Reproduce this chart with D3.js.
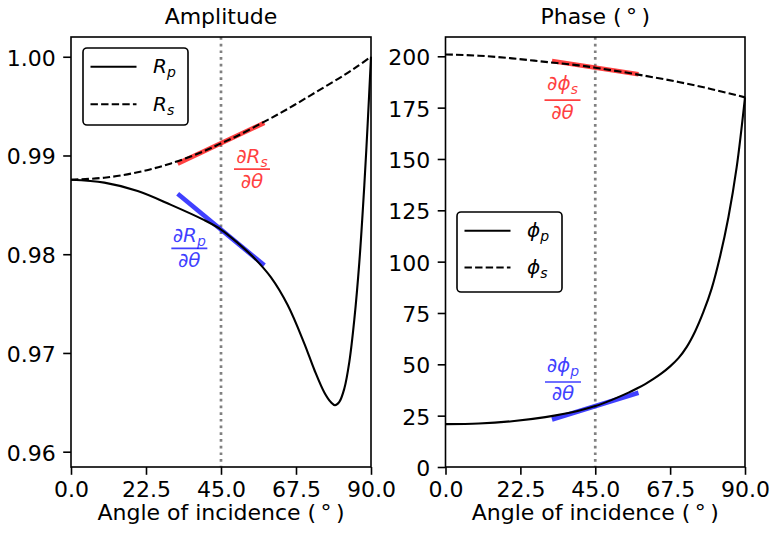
<!DOCTYPE html>
<html>
<head>
<meta charset="utf-8">
<script src="https://cdn.jsdelivr.net/npm/d3@7"></script>
<style>
  html, body { margin: 0; padding: 0; background: #fff; }
  svg { display: block; font-family: "DejaVu Sans", sans-serif; }
</style>
</head>
<body>
<svg id="chart" width="770" height="537"></svg>
<script>
// ---------- data ----------
const xTicks = [0, 22.5, 45, 67.5, 90];
const xTickLabels = ["0.0", "22.5", "45.0", "67.5", "90.0"];
const ampTicks = [0.96, 0.97, 0.98, 0.99, 1.00];
const ampTickLabels = ["0.96", "0.97", "0.98", "0.99", "1.00"];
const phaseTicks = [0, 25, 50, 75, 100, 125, 150, 175, 200];
const phaseTickLabels = ["0", "25", "50", "75", "100", "125", "150", "175", "200"];

const rpAngles = [0, 10, 20, 30, 40, 45, 50, 55, 60, 65, 70, 73, 76, 78, 79.2, 80.5, 82, 83.5, 85, 86.5, 88, 89, 90];
const rpValues = [0.98755, 0.98725, 0.98640, 0.98500, 0.98345, 0.98250, 0.98115, 0.97960, 0.97765, 0.97485, 0.97095, 0.96830, 0.96600, 0.96500, 0.96471, 0.96505, 0.96640, 0.96910, 0.97340, 0.97920, 0.98700, 0.99320, 1.00000];

const rsAngles = [0, 10, 20, 30, 40, 45, 50, 57, 62, 67, 72, 77, 82, 86, 90];
const rsValues = [0.98755, 0.98775, 0.98830, 0.98920, 0.99045, 0.99123, 0.99200, 0.99325, 0.99415, 0.99511, 0.99612, 0.99713, 0.99815, 0.99905, 1.00000];

const phiPAngles = [0, 10, 20, 30, 40, 45, 50, 55, 57.5, 60, 62.5, 65, 67.5, 70, 72.5, 75, 77.5, 80, 82.5, 85, 87.5, 90];
const phiPValues = [20.9, 21.2, 22.3, 24.3, 27.4, 29.65, 32.7, 36.2, 38.2, 40.4, 42.9, 45.7, 49.0, 53.0, 58.5, 66.0, 75.5, 87.0, 102.5, 121.5, 146.0, 180.0];

const phiSAngles = [0, 10, 20, 30, 40, 45, 50, 60, 70, 80, 90];
const phiSValues = [200.9, 200.3, 199.0, 197.3, 195.6, 194.45, 193.2, 190.5, 187.5, 184.0, 180.0];

const tangentAngles = [32, 58];
const rsTangent = [0.98917, 0.99330];
const rpTangent = [0.98613, 0.97887];
const phiSTangent = [197.67, 191.23];
const phiPTangent = [23.15, 36.15];

const markAngle = 45;

// ---------- layout ----------
const svg = d3.select("#chart");
const plotTop = 37, plotBottom = 467;
const FS = 22;
const RED = "rgba(255,0,0,0.75)";
const BLUE = "rgba(0,0,255,0.75)";

const xL = d3.scaleLinear([0, 90], [71, 371]);
const yL = d3.scaleLinear([0.95845, 1.0020], [plotBottom, plotTop]);
const xR = d3.scaleLinear([0, 90], [445.5, 745]);
const yR = d3.scaleLinear([0, 209.4], [plotBottom, plotTop]);

function zip(a, b) { return a.map((v, i) => [v, b[i]]); }

function panel(x, y, yTicks, yLabels, title) {
  const g = svg.append("g");
  const [x0, x1] = x.range();
  const ax = d3.axisBottom(x).tickValues(xTicks).tickFormat((d, i) => xTickLabels[i])
    .tickSizeInner(7.8).tickSizeOuter(0).tickPadding(7.0);
  const gx = g.append("g").attr("transform", `translate(0,${plotBottom})`).call(ax);
  const ay = d3.axisLeft(y).tickValues(yTicks).tickFormat((d, i) => yLabels[i])
    .tickSizeInner(7.8).tickSizeOuter(0).tickPadding(7.4);
  const gy = g.append("g").attr("transform", `translate(${x0},0)`).call(ay);
  [gx, gy].forEach(a => {
    a.select(".domain").remove();
    a.selectAll("line").attr("stroke", "#000").attr("stroke-width", 1.6);
    a.selectAll("text").attr("font-size", FS).attr("fill", "#000")
      .attr("font-family", "DejaVu Sans");
  });
  gx.selectAll("text").attr("dy", "0.68em");
  gy.selectAll("text").attr("dy", "0.38em");
  g.append("line").attr("x1", x(markAngle)).attr("x2", x(markAngle))
    .attr("y1", plotTop).attr("y2", plotBottom)
    .attr("stroke", "#808080").attr("stroke-width", 2.7)
    .attr("stroke-dasharray", "2.7,4");
  g.append("text").attr("x", (x0 + x1) / 2).attr("y", 24).attr("text-anchor", "middle")
    .attr("font-size", FS).text(title);
  g.append("text").attr("x", (x0 + x1) / 2).attr("y", 520).attr("text-anchor", "middle")
    .attr("font-size", FS).text("Angle of incidence (\u2009\u00B0\u2009)");
  return g;
}

function frame(g, x) {
  const [x0, x1] = x.range();
  g.append("rect").attr("x", x0).attr("y", plotTop).attr("width", x1 - x0).attr("height", plotBottom - plotTop)
    .attr("fill", "none").attr("stroke", "#000").attr("stroke-width", 1.6);
}

function tangent(g, x, y, vals, color) {
  g.append("path").datum(zip(tangentAngles, vals))
    .attr("d", d3.line().x(d => x(d[0])).y(d => y(d[1])))
    .attr("stroke", color).attr("stroke-width", 4.6).attr("fill", "none");
}

function curve(g, x, y, angles, vals, dashed) {
  g.append("path").datum(zip(angles, vals))
    .attr("d", d3.line().x(d => x(d[0])).y(d => y(d[1])).curve(d3.curveCatmullRom.alpha(0.5)))
    .attr("stroke", "#000").attr("stroke-width", 2.1).attr("fill", "none")
    .attr("stroke-dasharray", dashed ? "7.4,3.2" : null);
}

function fraction(g, cx, barY, sym, sub, color, descender) {
  const fs = 20;
  const num = g.append("text").attr("x", cx).attr("y", barY - (descender ? 10 : 6.5))
    .attr("text-anchor", "middle").attr("font-size", fs).attr("fill", color)
    .attr("font-style", "italic");
  num.append("tspan").text("\u2202" + sym);
  num.append("tspan").attr("font-size", fs * 0.7).attr("dy", 4).text(sub);
  g.append("line").attr("x1", cx - 18).attr("x2", cx + 18).attr("y1", barY).attr("y2", barY)
    .attr("stroke", color).attr("stroke-width", 1.7);
  g.append("text").attr("x", cx).attr("y", barY + 18.5).attr("text-anchor", "middle")
    .attr("font-size", fs).attr("fill", color).attr("font-style", "italic")
    .text("\u2202\u03B8");
}

function legend(g, bx, by, bw, bh, rows) {
  g.append("rect").attr("x", bx).attr("y", by).attr("width", bw).attr("height", bh)
    .attr("rx", 4).attr("fill", "#fff").attr("stroke", "#000").attr("stroke-width", 1.6);
  rows.forEach(r => {
    g.append("line").attr("x1", bx + 7.5).attr("x2", bx + 53.5).attr("y1", r.y).attr("y2", r.y)
      .attr("stroke", "#000").attr("stroke-width", 2.1)
      .attr("stroke-dasharray", r.dashed ? "7.4,3.2" : null);
    const t = g.append("text").attr("x", bx + 70).attr("y", r.y + 6.5)
      .attr("font-size", 20).attr("font-style", "italic").attr("fill", "#000");
    t.append("tspan").text(r.sym);
    t.append("tspan").attr("font-size", 20 * 0.7).attr("dy", 4).text(r.sub);
  });
}

// ---------- left: amplitude ----------
const gL = panel(xL, yL, ampTicks, ampTickLabels, "Amplitude");
tangent(gL, xL, yL, rsTangent, RED);
tangent(gL, xL, yL, rpTangent, BLUE);
curve(gL, xL, yL, rpAngles, rpValues, false);
curve(gL, xL, yL, rsAngles, rsValues, true);
frame(gL, xL);
fraction(gL, xL(54.3), yL(0.98862), "R", "s", RED, false);
fraction(gL, xL(35.5), yL(0.98059), "R", "p", BLUE, false);
legend(gL, 83, 48, 105, 77, [
  { y: 66.7, sym: "R", sub: "p", dashed: false },
  { y: 104.3, sym: "R", sub: "s", dashed: true }
]);

// ---------- right: phase ----------
const gR = panel(xR, yR, phaseTicks, phaseTickLabels, "Phase (\u2009\u00B0\u2009)");
tangent(gR, xR, yR, phiSTangent, RED);
tangent(gR, xR, yR, phiPTangent, BLUE);
curve(gR, xR, yR, phiPAngles, phiPValues, false);
curve(gR, xR, yR, phiSAngles, phiSValues, true);
frame(gR, xR);
fraction(gR, xR(35.16), yR(178.7), "\u03D5", "s", RED, true);
fraction(gR, xR(35.3), yR(41.4), "\u03D5", "p", BLUE, true);
legend(gR, 457, 212, 105, 80, [
  { y: 230.7, sym: "\u03D5", sub: "p", dashed: false },
  { y: 267.5, sym: "\u03D5", sub: "s", dashed: true }
]);
</script>
</body>
</html>
